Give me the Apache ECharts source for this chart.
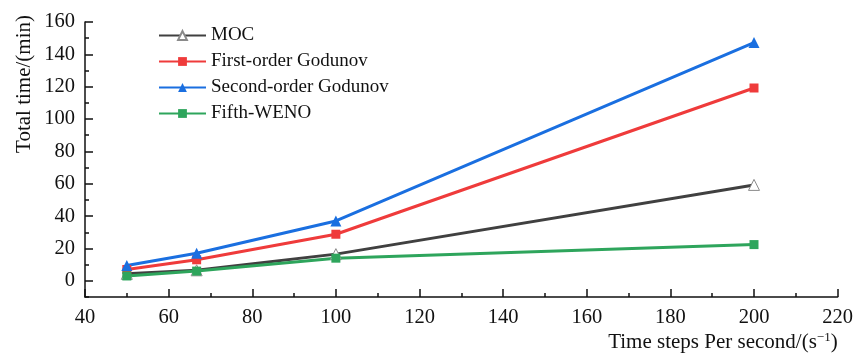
<!DOCTYPE html>
<html>
<head>
<meta charset="utf-8">
<script src="https://cdn.jsdelivr.net/npm/echarts@6/dist/echarts.min.js"></script>
<style>
  html, body { margin: 0; padding: 0; background: #fff; }
  #chart { width: 856px; height: 356px; }
</style>
</head>
<body>
<div id="chart"></div>
<script>
// Time steps per second (s^-1)
const stepsPerSecond = [50, 66.7, 100, 200];

// Total computation time in minutes for each scheme
const mocTime = [4.3, 6.5, 16.5, 59.3];
const firstOrderTime = [7, 13, 28.8, 119.2];
const secondOrderTime = [9.5, 17, 37, 147.3];
const wenoTime = [3, 6, 14, 22.4];

const seriesNames = ['MOC', 'First-order Godunov', 'Second-order Godunov', 'Fifth-WENO'];

// Labelled (major) y ticks every 20 min, plain (minor) ticks every 10 min
const yMajorTicks = [0, 20, 40, 60, 80, 100, 120, 140, 160];
const yMinorTicks = [-10, 0, 10, 20, 30, 40, 50, 60, 70, 80, 90, 100, 110, 120, 130, 140, 150, 160];

const FONT = '"Liberation Serif", "Times New Roman", serif';
const INK = '#111';

const pair = (ys) => stepsPerSecond.map((x, i) => [x, ys[i]]);

const chart = echarts.init(document.getElementById('chart'), null, { renderer: 'canvas' });

function lineSeries(name, ys, color, symbol, hollow) {
  return {
    name: name,
    type: 'line',
    yAxisIndex: 0,
    data: pair(ys),
    symbol: symbol,
    symbolSize: symbol === 'rect' ? 9 : 11,
    showSymbol: true,
    lineStyle: { color: color, width: 3 },
    itemStyle: hollow
      ? { color: '#ffffff', borderColor: '#8a8a8a', borderWidth: 1 }
      : { color: color, borderWidth: 0 },
    emphasis: { disabled: true },
    animation: false
  };
}

chart.setOption({
  backgroundColor: '#ffffff',
  animation: false,
  grid: { left: 85, right: 18, top: 22, bottom: 59 },
  legend: {
    orient: 'vertical',
    left: 153,
    top: 21,
    itemWidth: 47,
    itemHeight: 11,
    itemGap: 7,
    textStyle: { fontFamily: FONT, fontSize: 19, color: INK },
    data: seriesNames
  },
  xAxis: {
    type: 'value',
    min: 40,
    max: 220,
    interval: 20,
    axisLine: { onZero: false, lineStyle: { color: INK, width: 1.5 } },
    axisTick: { inside: true, length: 8, lineStyle: { color: INK, width: 1.5 } },
    minorTick: { show: true, splitNumber: 2, length: 4, lineStyle: { color: INK, width: 1.5 } },
    splitLine: { show: false },
    axisLabel: { fontFamily: FONT, fontSize: 20.5, color: INK, margin: 10 },
    name: 'Time steps Per second/(s{sup|−1})',
    nameLocation: 'end',
    nameGap: 0,
    nameTextStyle: {
      fontFamily: FONT, fontSize: 21, color: INK,
      align: 'right', verticalAlign: 'top', padding: [34, 0, 0, 0],
      rich: { sup: { fontFamily: FONT, fontSize: 13, verticalAlign: 'top', padding: [0, 0, 9, 0] } }
    }
  },
  yAxis: [{
    // main axis: line, long ticks and labels
    type: 'value',
    min: -10,
    max: 160,
    interval: 10,
    axisLine: { onZero: false, lineStyle: { color: INK, width: 1.5 } },
    axisTick: { inside: true, length: 8, customValues: yMajorTicks, lineStyle: { color: INK, width: 1.5 } },
    splitLine: { show: false },
    axisLabel: { fontFamily: FONT, fontSize: 20.5, color: INK, margin: 10, customValues: yMajorTicks }
  }, {
    // overlay axis: short ticks only
    type: 'value',
    position: 'left',
    offset: 0,
    min: -10,
    max: 160,
    interval: 10,
    axisLine: { show: false },
    axisTick: { inside: true, length: 4, customValues: yMinorTicks, lineStyle: { color: INK, width: 1.5 } },
    axisLabel: { show: false },
    splitLine: { show: false }
  }],
  graphic: [{
    type: 'text',
    left: 14,
    top: 15,
    rotation: Math.PI / 2,
    style: {
      text: 'Total time/(min)',
      font: '21px ' + FONT,
      fill: INK
    }
  }],
  series: [
    lineSeries(seriesNames[0], mocTime, '#404040', 'triangle', true),
    lineSeries(seriesNames[1], firstOrderTime, '#ef3b3b', 'rect', false),
    lineSeries(seriesNames[2], secondOrderTime, '#1a6fe0', 'triangle', false),
    lineSeries(seriesNames[3], wenoTime, '#2ea55c', 'rect', false)
  ]
});
</script>
</body>
</html>
